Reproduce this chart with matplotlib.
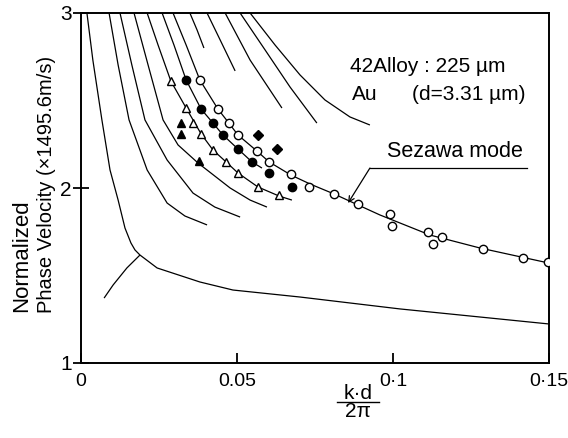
import matplotlib
matplotlib.use("Agg")
import matplotlib.pyplot as plt
from matplotlib.lines import Line2D

plt.rcParams['font.family'] = ['Liberation Sans', 'DejaVu Sans']

# ---- theoretical dispersion curves (k*d/2pi, normalized velocity) ----
c1_x = [0.0019, 0.0038, 0.0067, 0.0093, 0.0119, 0.0141, 0.0160, 0.0173, 0.0189, 0.0244, 0.0381, 0.0487, 0.0702, 0.1022, 0.15]
c1_y = [3.0, 2.731, 2.389, 2.103, 1.931, 1.771, 1.686, 1.646, 1.617, 1.543, 1.463, 1.417, 1.377, 1.309, 1.223]
br_x = [0.0074, 0.0103, 0.0147, 0.0189]
br_y = [1.371, 1.446, 1.543, 1.617]
c2_x = [0.0090, 0.0119, 0.0154, 0.0212, 0.0276, 0.0333, 0.0404]
c2_y = [3.0, 2.703, 2.389, 2.103, 1.914, 1.840, 1.789]
c3_x = [0.0125, 0.0163, 0.0205, 0.0276, 0.0359, 0.0429, 0.0510]
c3_y = [3.0, 2.703, 2.389, 2.160, 1.971, 1.891, 1.834]
c4_x = [0.0170, 0.0215, 0.0263, 0.0311, 0.0375, 0.0478, 0.0542, 0.0596]
c4_y = [3.0, 2.703, 2.389, 2.246, 2.143, 2.0, 1.931, 1.891]
c5_x = [0.0212, 0.0247, 0.0288, 0.0337, 0.0385, 0.0423, 0.0465, 0.0503, 0.0567, 0.0635, 0.0676]
c5_y = [3.0, 2.817, 2.611, 2.457, 2.309, 2.217, 2.149, 2.086, 2.006, 1.954, 1.931]
c6_x = [0.0260, 0.0298, 0.0337, 0.0385, 0.0423, 0.0455, 0.0503, 0.0548, 0.0580]
c6_y = [3.0, 2.817, 2.617, 2.451, 2.371, 2.303, 2.223, 2.149, 2.114]
c7_x = [0.0295, 0.0337, 0.0381, 0.0439, 0.0474, 0.0503, 0.0564, 0.0603, 0.0673, 0.0734, 0.0811, 0.0888, 0.0958, 0.1119, 0.1279, 0.15]
c7_y = [3.0, 2.817, 2.617, 2.451, 2.371, 2.303, 2.211, 2.149, 2.074, 2.023, 1.966, 1.903, 1.846, 1.731, 1.657, 1.571]
t1_x = [0.0349, 0.0372, 0.0394]
t1_y = [3.0, 2.903, 2.8]
t2_x = [0.0404, 0.0446, 0.0494]
t2_y = [3.0, 2.846, 2.669]
t3_x = [0.0462, 0.0542, 0.0644]
t3_y = [3.0, 2.731, 2.457]
t4_x = [0.0510, 0.0590, 0.0670, 0.0756]
t4_y = [3.0, 2.789, 2.577, 2.371]
t5_x = [0.0542, 0.0622, 0.0702, 0.0782, 0.0862, 0.0926]
t5_y = [3.0, 2.817, 2.646, 2.503, 2.406, 2.360]

curves = [(c1_x, c1_y), (br_x, br_y), (c2_x, c2_y), (c3_x, c3_y), (c4_x, c4_y),
          (c5_x, c5_y), (c6_x, c6_y), (c7_x, c7_y), (t1_x, t1_y), (t2_x, t2_y),
          (t3_x, t3_y), (t4_x, t4_y), (t5_x, t5_y)]

# ---- measured points ----
ocirc_x = [0.0381, 0.0439, 0.0474, 0.0503, 0.0564, 0.0603, 0.0673, 0.0731, 0.0811, 0.0888,
           0.0990, 0.0997, 0.1112, 0.1157, 0.1128, 0.1288, 0.1417, 0.1497]
ocirc_y = [2.617, 2.451, 2.371, 2.303, 2.211, 2.149, 2.080, 2.006, 1.966, 1.909,
           1.851, 1.783, 1.749, 1.720, 1.680, 1.651, 1.600, 1.577]
fcirc_x = [0.0337, 0.0385, 0.0423, 0.0455, 0.0503, 0.0548, 0.0603, 0.0676]
fcirc_y = [2.617, 2.451, 2.371, 2.303, 2.223, 2.149, 2.086, 2.006]
otri_x = [0.0288, 0.0337, 0.0359, 0.0385, 0.0423, 0.0465, 0.0503, 0.0567, 0.0635]
otri_y = [2.611, 2.457, 2.371, 2.309, 2.217, 2.149, 2.086, 2.006, 1.960]
ftri_x = [0.0321, 0.0321, 0.0378]
ftri_y = [2.371, 2.309, 2.154]
fdia_x = [0.0567, 0.0628]
fdia_y = [2.303, 2.223]

xticks = [0, 0.05, 0.1, 0.15]
xticklabels = ['0', '0.05', '0·1', '0·15']
yticks = [1, 2, 3]
yticklabels = ['1', '2', '3']

fig = plt.figure(figsize=(5.68, 4.38), dpi=100)
ax = fig.add_axes([81/568, 1-363/438, 468/568, 350/438])

for xs, ys in curves:
    ax.plot(xs, ys, color='black', lw=0.9, solid_capstyle='butt', solid_joinstyle='round')

ms = 6
ax.plot(ocirc_x, ocirc_y, 'o', mfc='white', mec='black', mew=1.0, ms=ms, zorder=3)
ax.plot(fcirc_x, fcirc_y, 'o', mfc='black', mec='black', ms=ms, zorder=3)
ax.plot(otri_x, otri_y, '^', mfc='white', mec='black', mew=1.0, ms=ms, zorder=3)
ax.plot(ftri_x, ftri_y, '^', mfc='black', mec='black', ms=ms, zorder=3)
ax.plot(fdia_x, fdia_y, 'D', mfc='black', mec='black', ms=4.8, zorder=3)

ax.set_xlim(0, 0.15)
ax.set_ylim(1, 3)
ax.set_xticks(xticks)
ax.set_xticklabels(xticklabels)
ax.set_yticks(yticks)
ax.set_yticklabels(yticklabels)
ax.tick_params(axis='x', direction='in', length=7, width=1.3, pad=7, labelsize=14)
ax.tick_params(axis='y', direction='inout', length=11, width=1.3, pad=1, labelsize=15)
for s in ax.spines.values():
    s.set_linewidth(1.4)

ax.text(0.0862, 2.663, '42Alloy : 225 µm', fontsize=15)
ax.text(0.0869, 2.503, 'Au', fontsize=15)
ax.text(0.1061, 2.503, '(d=3.31 µm)', fontsize=15)
ax.text(0.0981, 2.177, 'Sezawa mode', fontsize=15.5)
ax.plot([0.0926, 0.1429], [2.114, 2.114], color='black', lw=0.9)
ax.annotate('', xy=(0.0856, 1.914), xytext=(0.0926, 2.114),
            arrowprops=dict(arrowstyle='->', color='black', lw=0.9, shrinkA=0, shrinkB=0))

fig.text(27/568, 1-312/438, 'Normalized', rotation=90, rotation_mode='anchor',
         ha='left', va='baseline', fontsize=16)
fig.text(52/568, 1-313/438, 'Phase Velocity (×1495.6m/s)', rotation=90, rotation_mode='anchor',
         ha='left', va='baseline', fontsize=14.5)

fig.text(358/568, 1-399/438, 'k·d', ha='center', va='baseline', fontsize=15)
fig.text(358/568, 1-417/438, '2π', ha='center', va='baseline', fontsize=15)
fig.add_artist(Line2D([337/568, 379/568], [1-402/438, 1-402/438], color='black', lw=1.0))

fig.savefig('out.png', dpi=100)
